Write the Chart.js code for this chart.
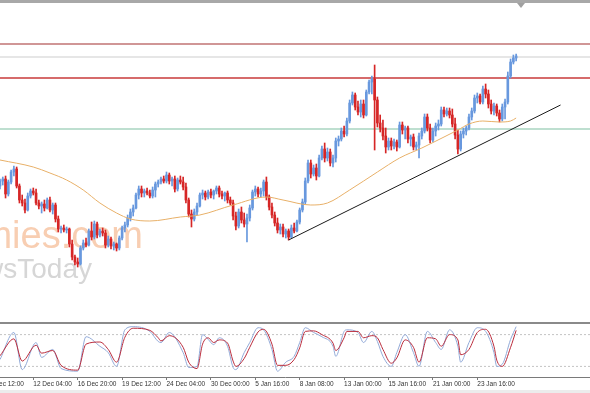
<!DOCTYPE html>
<html>
<head>
<meta charset="utf-8">
<script src="https://cdn.jsdelivr.net/npm/chart.js@4.4.1/dist/chart.umd.min.js"></script>
<style>
  html, body { margin: 0; padding: 0; background: #fff; }
  body { width: 590px; height: 393px; position: relative; overflow: hidden; }
  canvas { position: absolute; }
  #main { left: -20px; top: 0; }
  #stoch { left: -20px; top: 324px; }
  .topbar { position: absolute; left: 0; top: 0; width: 590px; height: 3px; background: #a8a8a8; }
  .sep { position: absolute; left: 0; top: 322px; width: 590px; height: 2px; background: #8a8a8a; }
  .bottom { position: absolute; left: 0; top: 390px; width: 590px; height: 3px; background: #ececec; }
  .shift { position: absolute; left: 517px; top: 3px; width: 0; height: 0;
           border-left: 4px solid transparent; border-right: 4px solid transparent; border-top: 5px solid #a0a0a0; }
</style>
</head>
<body>
<canvas id="main" width="610" height="322"></canvas>
<canvas id="stoch" width="610" height="69"></canvas>
<div class="topbar"></div>
<div class="sep"></div>
<div class="bottom"></div>
<div class="shift"></div>
<script>
// H4 candles, one entry per bar (bar index = position in array)
const opens = [
  108.14,108.19,108.21,108.06,108.18,108.28,108.31,108.14,108.00,107.97,
  107.90,108.04,108.09,108.07,107.97,107.94,107.96,107.92,108.00,107.90,
  107.95,107.81,107.71,107.72,107.70,107.71,107.56,107.43,107.38,107.36,
  107.52,107.57,107.55,107.69,107.63,107.76,107.65,107.69,107.67,107.55,
  107.61,107.54,107.56,107.52,107.62,107.72,107.75,107.82,107.88,107.92,
  108.05,108.11,108.07,108.09,108.07,108.04,108.10,108.16,108.18,108.21,
  108.19,108.25,108.19,108.21,108.11,108.20,108.18,108.13,108.00,107.86,
  107.81,107.88,107.94,108.05,108.07,108.03,108.08,108.05,108.09,108.12,
  108.06,108.04,108.07,108.00,107.97,107.84,107.74,107.88,107.80,107.76,
  107.82,107.92,108.08,108.11,108.06,108.09,108.18,108.03,107.93,107.85,
  107.77,107.70,107.73,107.66,107.69,107.63,107.72,107.69,107.78,107.90,
  107.98,108.19,108.37,108.26,108.32,108.24,108.42,108.51,108.42,108.48,
  108.37,108.42,108.59,108.61,108.69,108.66,108.79,108.97,109.05,108.93,
  108.88,108.96,108.85,109.08,109.18,109.21,109.00,108.77,108.72,108.64,
  108.53,108.59,108.54,108.58,108.53,108.75,108.70,108.72,108.61,108.63,
  108.53,108.55,108.64,108.69,108.83,108.72,108.60,108.69,108.74,108.76,
  108.90,108.86,108.89,108.85,108.76,108.65,108.51,108.66,108.69,108.72,
  108.83,108.89,109.02,109.04,108.98,109.11,109.06,108.96,108.89,108.94,
  108.87,108.81,108.93,108.98,109.24,109.38,109.42
];
const highs = [
  108.21,108.23,108.24,108.20,108.30,108.34,108.33,108.16,108.05,108.01,
  108.07,108.11,108.12,108.11,108.00,107.98,108.00,108.02,108.03,107.97,
  107.97,107.84,107.74,107.75,107.73,107.72,107.60,107.45,107.42,107.54,
  107.60,107.62,107.71,107.78,107.79,107.78,107.71,107.72,107.70,107.64,
  107.63,107.58,107.57,107.64,107.74,107.78,107.85,107.91,107.95,108.07,
  108.14,108.14,108.11,108.12,108.10,108.13,108.18,108.20,108.23,108.24,
  108.28,108.27,108.23,108.24,108.22,108.24,108.23,108.17,108.02,107.90,
  107.91,107.97,108.07,108.10,108.09,108.10,108.11,108.10,108.14,108.14,
  108.09,108.08,108.09,108.03,108.00,107.88,107.91,107.93,107.87,107.86,
  107.95,108.10,108.14,108.13,108.12,108.20,108.23,108.05,107.97,107.88,
  107.82,107.76,107.76,107.71,107.71,107.75,107.77,107.80,107.92,108.01,
  108.22,108.40,108.40,108.35,108.36,108.45,108.54,108.57,108.52,108.51,
  108.45,108.62,108.64,108.72,108.74,108.82,109.00,109.08,109.07,108.99,
  109.00,109.00,109.10,109.20,109.24,109.35,109.03,108.85,108.80,108.72,
  108.62,108.62,108.61,108.60,108.78,108.78,108.74,108.74,108.65,108.66,
  108.58,108.67,108.72,108.86,108.86,108.76,108.72,108.77,108.80,108.93,
  108.93,108.92,108.92,108.91,108.82,108.70,108.69,108.72,108.74,108.86,
  108.92,109.05,109.07,109.06,109.14,109.16,109.10,109.00,108.97,108.96,
  108.90,108.96,109.01,109.28,109.41,109.45,109.46
];
const lows = [
  108.11,108.15,108.02,108.04,108.16,108.24,108.12,107.97,107.94,107.87,
  107.89,108.02,108.05,107.95,107.91,107.87,107.89,107.91,107.88,107.86,
  107.78,107.68,107.67,107.68,107.67,107.53,107.40,107.35,107.33,107.35,
  107.50,107.53,107.54,107.60,107.61,107.62,107.63,107.64,107.52,107.53,
  107.51,107.50,107.49,107.50,107.60,107.68,107.73,107.79,107.84,107.91,
  108.01,108.03,108.03,108.05,108.02,108.02,108.03,108.13,108.16,108.17,
  108.17,108.16,108.14,108.08,108.09,108.16,108.10,107.97,107.83,107.73,
  107.79,107.85,107.93,108.01,108.00,108.01,108.02,108.01,108.06,108.03,
  108.01,107.99,107.97,107.95,107.80,107.70,107.72,107.77,107.73,107.58,
  107.79,107.90,108.04,108.03,108.03,108.04,108.00,107.90,107.82,107.74,
  107.67,107.66,107.63,107.62,107.60,107.62,107.67,107.68,107.76,107.88,
  107.96,108.17,108.22,108.24,108.20,108.23,108.40,108.38,108.39,108.34,
  108.33,108.38,108.54,108.59,108.63,108.64,108.77,108.95,108.90,108.85,
  108.83,108.82,108.84,109.06,109.06,108.50,108.73,108.68,108.60,108.47,
  108.50,108.50,108.51,108.49,108.52,108.66,108.61,108.57,108.54,108.50,
  108.50,108.42,108.61,108.67,108.69,108.57,108.58,108.64,108.70,108.74,
  108.83,108.84,108.82,108.73,108.61,108.46,108.49,108.62,108.65,108.70,
  108.80,108.87,108.97,108.96,108.96,109.02,108.92,108.86,108.85,108.84,
  108.78,108.79,108.81,108.96,109.22,109.36,109.39
];
const closes = [
  108.19,108.21,108.06,108.18,108.28,108.31,108.14,108.00,107.97,107.90,
  108.04,108.09,108.07,107.97,107.94,107.96,107.92,108.00,107.90,107.95,
  107.81,107.71,107.72,107.70,107.71,107.56,107.43,107.38,107.36,107.52,
  107.57,107.55,107.69,107.63,107.76,107.65,107.69,107.67,107.55,107.61,
  107.54,107.56,107.52,107.62,107.72,107.75,107.82,107.88,107.92,108.05,
  108.11,108.07,108.09,108.07,108.04,108.10,108.16,108.18,108.21,108.19,
  108.25,108.19,108.21,108.11,108.20,108.18,108.13,108.00,107.86,107.81,
  107.88,107.94,108.05,108.07,108.03,108.08,108.05,108.09,108.12,108.06,
  108.04,108.07,108.00,107.97,107.84,107.74,107.88,107.80,107.76,107.82,
  107.92,108.08,108.11,108.06,108.09,108.18,108.03,107.93,107.85,107.77,
  107.70,107.73,107.66,107.69,107.63,107.72,107.69,107.78,107.90,107.98,
  108.19,108.37,108.26,108.32,108.24,108.42,108.51,108.42,108.48,108.37,
  108.42,108.59,108.61,108.69,108.66,108.79,108.97,109.05,108.93,108.88,
  108.96,108.85,109.08,109.18,109.21,109.00,108.77,108.72,108.64,108.53,
  108.59,108.54,108.58,108.53,108.75,108.70,108.72,108.61,108.63,108.53,
  108.55,108.64,108.69,108.83,108.72,108.60,108.69,108.74,108.76,108.90,
  108.86,108.89,108.85,108.76,108.65,108.51,108.66,108.69,108.72,108.83,
  108.89,109.02,109.04,108.98,109.11,109.06,108.96,108.89,108.94,108.87,
  108.81,108.93,108.98,109.24,109.38,109.42,109.44
];

// moving average, read at a subset of bars
const maBars   = [0, 12, 18, 24, 30, 36, 42, 47, 54, 65, 72, 84, 96, 102, 112, 118, 126, 136, 144, 152, 160, 165, 169, 174, 180, 184, 186];
const maValues = [108.40,108.33,108.27,108.20,108.10,107.97,107.87,107.81,107.79,107.83,107.85,107.95,108.03,108.00,107.95,107.97,108.10,108.28,108.42,108.52,108.63,108.70,108.76,108.79,108.78,108.79,108.82];

// horizontal levels and trend line
const levelValues = [109.56, 109.43, 109.22, 108.71];
const levelColors = ['rgb(208,150,150)', 'rgb(205,205,205)', 'rgb(200,58,58)', 'rgb(168,212,192)'];
const levelWidths = [2, 1, 1.4, 1.4];
const trendBars = [104, 202];
const trendValues = [107.60, 108.95];

// stochastic oscillator (%K and signal), read at a subset of bars
const stochBars = [0,5,8,13,15,19,22,28,31,36,39,42,45,48,54,57,58,61,66,68,71,73,75,77,79,82,84,85,88,90,93,95,98,100,103,106,108,110,113,116,120,121,124,125,129,131,134,136,138,141,143,146,149,151,154,157,159,162,165,166,169,172,175,178,179,181,184,186];
const stochK = [33,84,14,65,37,52,16,11,76,58,46,20,89,95,86,67,65,84,46,18,20,80,71,61,74,58,18,14,46,65,93,89,52,11,28,39,65,93,84,76,58,39,86,89,84,65,86,67,39,20,46,80,46,20,86,65,52,89,58,28,65,93,86,46,20,24,71,95];
const stochD = [40,72,30,60,45,50,22,13,62,66,52,28,75,92,88,74,68,78,56,28,16,62,74,65,70,64,30,20,35,56,85,90,62,22,22,33,55,86,87,80,64,50,74,86,86,74,78,74,52,26,36,70,56,28,74,72,58,80,70,42,52,84,90,58,32,20,56,88];
const stochLevels = [80, 20];

// time axis labels
const tickBars = [-4, 12, 28, 44, 60, 76, 92, 108, 124, 140, 156, 172];
const tickLabels = ['9 Dec 12:00', '12 Dec 04:00', '16 Dec 20:00', '19 Dec 12:00', '24 Dec 04:00', '30 Dec 00:00',
                    '5 Jan 16:00', '8 Jan 08:00', '13 Jan 00:00', '15 Jan 16:00', '21 Jan 00:00', '23 Jan 16:00'];

const BAR = 2.775;          // px per bar
const xMin = -20 / BAR;
const xMax = 590 / BAR;
const UP = 'rgb(104,152,222)';
const DOWN = 'rgb(214,38,38)';

const candleColor = closes.map((c, i) => c >= opens[i] ? UP : DOWN);

const watermark = {
  id: 'watermark',
  beforeDatasetsDraw(chart) {
    const c = chart.ctx;
    c.save();
    c.textAlign = 'right';
    c.textBaseline = 'alphabetic';
    c.font = '38px "Liberation Sans", Arial, sans-serif';
    c.fillStyle = 'rgb(248,206,178)';
    c.fillText('Economies.com', 163, 248);
    c.font = '28px "Liberation Sans", Arial, sans-serif';
    c.fillStyle = 'rgb(214,214,214)';
    c.fillText('NewsToday', 112, 278);
    c.restore();
  }
};

const datasets = [];
levelValues.forEach((v, k) => {
  datasets.push({
    type: 'line', order: 10,
    data: [{x: xMin, y: v}, {x: xMax, y: v}],
    borderColor: levelColors[k], borderWidth: levelWidths[k], pointRadius: 0
  });
});
datasets.push({
  type: 'bar', order: 6, grouped: false, barThickness: 1,
  data: opens.map((o, i) => ({x: i, y: [lows[i], highs[i]]})),
  backgroundColor: candleColor, borderWidth: 0
});
datasets.push({
  type: 'bar', order: 5, grouped: false, barThickness: 2,
  data: opens.map((o, i) => ({x: i, y: [o, closes[i]]})),
  backgroundColor: candleColor, borderWidth: 0
});
datasets.push({
  type: 'line', order: 3,
  data: maBars.map((b, i) => ({x: b, y: maValues[i]})),
  borderColor: 'rgb(232,176,104)', borderWidth: 1, pointRadius: 0, cubicInterpolationMode: 'monotone'
});
datasets.push({
  type: 'line', order: 1,
  data: trendBars.map((b, i) => ({x: b, y: trendValues[i]})),
  borderColor: '#1a1a1a', borderWidth: 1, pointRadius: 0
});

new Chart(document.getElementById('main'), {
  type: 'bar',
  data: { datasets },
  plugins: [watermark],
  options: {
    responsive: false, animation: false, events: [], devicePixelRatio: 1,
    layout: { padding: 0 },
    plugins: { legend: { display: false }, tooltip: { enabled: false } },
    scales: {
      x: { type: 'linear', display: false, min: xMin, max: xMax, offset: false },
      y: { type: 'linear', display: false, min: 106.78, max: 110.00 }
    }
  }
});

const stochSets = stochLevels.map(v => ({
  data: [{x: xMin, y: v}, {x: xMax, y: v}],
  borderColor: '#c4c4c4', borderWidth: 1, borderDash: [2, 2], pointRadius: 0, order: 5
}));
stochSets.push({
  data: stochBars.map((b, i) => ({x: b, y: stochK[i]})),
  borderColor: 'rgb(146,170,216)', borderWidth: 1, pointRadius: 0, cubicInterpolationMode: 'monotone', order: 2
});
stochSets.push({
  data: stochBars.map((b, i) => ({x: b, y: stochD[i]})),
  borderColor: 'rgb(186,44,60)', borderWidth: 1, pointRadius: 0, cubicInterpolationMode: 'monotone', order: 1
});

new Chart(document.getElementById('stoch'), {
  type: 'line',
  data: { datasets: stochSets },
  options: {
    responsive: false, animation: false, events: [], devicePixelRatio: 1,
    layout: { padding: 0 },
    plugins: { legend: { display: false }, tooltip: { enabled: false } },
    scales: {
      x: {
        type: 'linear', min: xMin, max: xMax, offset: false,
        afterBuildTicks: ax => { ax.ticks = tickBars.map(v => ({ value: v })); },
        afterFit: ax => { ax.height = 16; },
        ticks: {
          autoSkip: false, maxRotation: 0, minRotation: 0, align: 'start', padding: 0,
          color: '#333', font: { size: 6.5, family: '"Liberation Sans", Arial, sans-serif' },
          callback: (v, i) => tickLabels[i]
        },
        grid: { drawOnChartArea: false, drawTicks: true, tickLength: 3, color: '#7a7a7a' },
        border: { display: true, color: '#7a7a7a', width: 1 }
      },
      y: { display: false, min: 0, max: 100 }
    }
  }
});
</script>
</body>
</html>
